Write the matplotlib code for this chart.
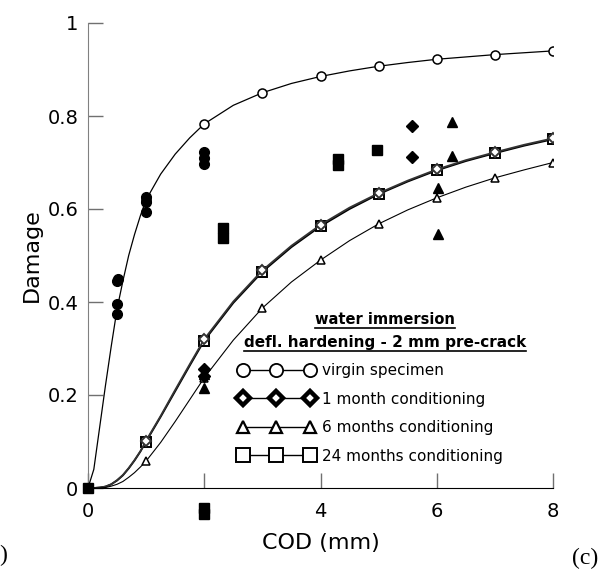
import matplotlib
matplotlib.use('Agg')
import matplotlib.pyplot as plt
from matplotlib.lines import Line2D
from matplotlib.ticker import FuncFormatter

# fitted damage curves
cod_fit = [0, 0.1, 0.2, 0.3, 0.4, 0.5, 0.6, 0.7, 0.8, 0.9, 1, 1.25, 1.5, 1.75, 2,
           2.5, 3, 3.5, 4, 4.5, 5, 5.5, 6, 6.5, 7, 7.5, 8]
virgin_fit = [0, 0.04, 0.13, 0.22, 0.305, 0.385, 0.445, 0.50, 0.545, 0.585, 0.62,
              0.675, 0.718, 0.753, 0.783, 0.823, 0.85, 0.87, 0.885, 0.897, 0.907,
              0.915, 0.922, 0.927, 0.932, 0.936, 0.94]
m1_fit = [0, 0, 0.001, 0.003, 0.008, 0.017, 0.028, 0.043, 0.06, 0.079, 0.102,
          0.155, 0.211, 0.266, 0.32, 0.401, 0.468, 0.521, 0.566, 0.603, 0.634,
          0.661, 0.685, 0.705, 0.722, 0.738, 0.752]
m6_fit = [0, 0, 0, 0.001, 0.004, 0.008, 0.014, 0.023, 0.033, 0.045, 0.058,
          0.098, 0.143, 0.19, 0.237, 0.318, 0.387, 0.443, 0.49, 0.532, 0.568,
          0.598, 0.624, 0.647, 0.667, 0.684, 0.70]
m24_fit = [0, 0, 0.001, 0.003, 0.008, 0.016, 0.027, 0.042, 0.059, 0.078, 0.10,
           0.153, 0.208, 0.263, 0.317, 0.398, 0.465, 0.518, 0.563, 0.60, 0.632,
           0.659, 0.683, 0.703, 0.72, 0.736, 0.75]

# experimental points (filled symbols)
virgin_x = [0.5, 0.5, 0.5, 0.52, 1.0, 1.0, 1.0, 2.0, 2.0, 2.0]
virgin_y = [0.374, 0.396, 0.445, 0.45, 0.594, 0.615, 0.626, 0.697, 0.709, 0.722]
m1_x = [5.58, 5.58, 2.0, 2.0]
m1_y = [0.778, 0.712, 0.255, 0.24]
m6_x = [6.27, 6.27, 6.03, 6.03, 2.0, 2.0]
m6_y = [0.787, 0.714, 0.645, 0.546, 0.245, 0.215]
m24_x = [0, 2.32, 2.32, 4.3, 4.3, 4.97, 2.0, 2.0]
m24_y = [0, 0.559, 0.538, 0.708, 0.695, 0.727, -0.042, -0.056]

labels = ['virgin specimen', '1 month conditioning', '6 months conditioning',
          '24 months conditioning']

fig = plt.figure(figsize=(6.11, 5.74), dpi=100)
ax = fig.add_axes([88 / 611, 1 - 488 / 574, 465 / 611, 465 / 574])

marks = [i for i, c in enumerate(cod_fit) if c >= 1 and c == int(c)]

ax.plot(cod_fit, virgin_fit, color='black', lw=0.9, marker='o', ms=6.5,
        mfc='white', mew=1.1, markevery=marks, zorder=3)
ax.plot(cod_fit, m24_fit, color='black', lw=1.3, marker='s', ms=7.5,
        mfc='white', mew=1.4, markevery=marks, zorder=3)
ax.plot(cod_fit, m1_fit, color='#333333', lw=1.3, marker='D', ms=5,
        mfc='white', mew=1.4, markevery=marks, zorder=3)
ax.plot(cod_fit, m6_fit, color='black', lw=0.8, marker='^', ms=5.5,
        mfc='white', mew=1.1, markevery=marks, zorder=3)

kw = dict(ls='none', color='black', clip_on=False, zorder=6)
ax.plot(virgin_x, virgin_y, marker='o', ms=7, **kw)
ax.plot(m1_x, m1_y, marker='D', ms=6, **kw)
ax.plot(m6_x, m6_y, marker='^', ms=7, **kw)
ax.plot(m24_x, m24_y, marker='s', ms=7, **kw)

ax.set_xlim(0, 8)
ax.set_ylim(0, 1)
ax.set_xticks([0, 2, 4, 6, 8])
ax.set_yticks([0, 0.2, 0.4, 0.6, 0.8, 1])
ax.yaxis.set_major_formatter(FuncFormatter(lambda v, p: '%g' % v))
ax.spines['top'].set_visible(False)
ax.spines['right'].set_visible(False)
ax.spines['left'].set_color('#808080')
ax.spines['bottom'].set_color('black')
ax.tick_params(direction='in', length=11, width=1, color='#707070', labelsize=14)
ax.tick_params(axis='x', pad=10)
ax.tick_params(axis='y', pad=7)

ax.set_xlabel('COD (mm)', fontsize=16)
ax.set_ylabel('Damage', fontsize=16)
ax.xaxis.set_label_coords(0.5, -0.097)
ax.yaxis.set_label_coords(-0.099, 0.5)

handles = [
    Line2D([], [], color='black', lw=1, marker='o', ms=9.5, mfc='white', mew=1.3),
    Line2D([], [], color='black', lw=1, marker='D', ms=7, mfc='white', mew=3.2),
    Line2D([], [], color='black', lw=1, marker='^', ms=8.5, mfc='white', mew=1.6),
    Line2D([], [], color='black', lw=1, marker='s', ms=10.5, mfc='white', mew=1.4),
]
ax.legend(handles, labels, loc='upper left', bbox_to_anchor=(0.323, 0.268),
          numpoints=3, handlelength=5.0, handletextpad=0.5, labelspacing=0.88,
          borderpad=0, borderaxespad=0, frameon=False, fontsize=11)

# headers with underline
fig.canvas.draw()
for s, yb, fs in [('water immersion', 0.353, 10.5),
                  ('defl. hardening - 2 mm pre-crack', 0.303, 11)]:
    t = ax.text(0.639, yb, s, transform=ax.transAxes, ha='center', va='baseline',
                fontsize=fs, fontweight='bold')
    bb = t.get_window_extent(renderer=fig.canvas.get_renderer())
    bb = bb.transformed(ax.transAxes.inverted())
    uy = yb - 4.0 / 465
    ax.plot([bb.x0, bb.x1], [uy, uy], transform=ax.transAxes, color='black',
            lw=1.2, clip_on=False)

fig.text(585 / 611, 1 - 558 / 574, '(c)', family='Liberation Serif', fontsize=17,
         ha='center', va='center')
fig.text(3 / 611, 1 - 555 / 574, ')', family='Liberation Serif', fontsize=17,
         ha='center', va='center')

fig.savefig('out.png', dpi=100)
